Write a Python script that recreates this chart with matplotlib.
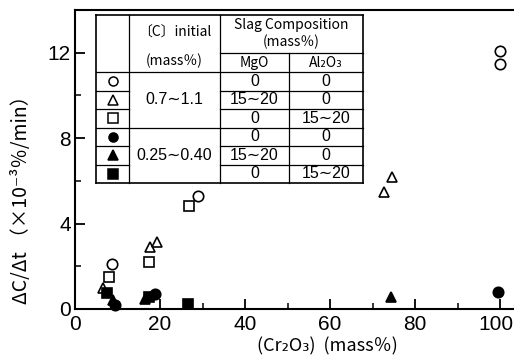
import matplotlib
matplotlib.use("Agg")
import matplotlib.pyplot as plt
from matplotlib import font_manager
from matplotlib.lines import Line2D
from matplotlib.transforms import ScaledTranslation

# ---- data: decarburisation rate vs. Cr2O3 content ----
open_circle_x = [8.6, 29.0, 100.0, 100.0]
open_circle_y = [2.1, 5.3, 12.1, 11.45]

open_tri_x = [6.5, 17.6, 19.2, 72.7, 74.5]
open_tri_y = [0.97, 2.9, 3.15, 5.5, 6.2]

open_sq_x = [8.1, 17.5, 26.9]
open_sq_y = [1.5, 2.22, 4.84]

fill_circle_x = [9.3, 18.8, 99.6]
fill_circle_y = [0.2, 0.68, 0.8]

fill_tri_x = [9.0, 16.5, 74.4]
fill_tri_y = [0.42, 0.47, 0.55]

fill_sq_x = [7.5, 17.3, 26.7]
fill_sq_y = [0.75, 0.58, 0.25]

x_ticks = [0, 20, 40, 60, 80, 100]
y_ticks = [0, 4, 8, 12]

# table contents
c_initial = ["0.7\u223c1.1", "0.25\u223c0.40"]
mgo_col = ["0", "15\u223c20", "0", "0", "15\u223c20", "0"]
al2o3_col = ["0", "0", "15\u223c20", "0", "0", "15\u223c20"]

# ---- fonts ----
installed = {f.name for f in font_manager.fontManager.ttflist}
NARROW = "Liberation Sans Narrow" if "Liberation Sans Narrow" in installed else "Liberation Sans"
NUM = [NARROW, "DejaVu Sans"]
CJK = ["Noto Sans CJK JP", "DejaVu Sans"]

W, H = 514, 362
fig = plt.figure(figsize=(W / 100, H / 100), dpi=100)

x0_px, y0_px, ytop_px = 75, 309, 10
px_per_x = 4.25
xmax = 105
ax = fig.add_axes([x0_px / W, (H - y0_px) / H,
                   xmax * px_per_x / W, (y0_px - ytop_px) / H])
ax.set_xlim(0, xmax)
ax.set_ylim(0, 14)

ms = 7.5
mew = 1.2
series = [
    (open_circle_x, open_circle_y, "o", "white"),
    (open_tri_x, open_tri_y, "^", "white"),
    (open_sq_x, open_sq_y, "s", "white"),
    (fill_circle_x, fill_circle_y, "o", "black"),
    (fill_tri_x, fill_tri_y, "^", "black"),
    (fill_sq_x, fill_sq_y, "s", "black"),
]
for xs, ys, m, fc in series:
    ax.plot(xs, ys, linestyle="none", marker=m, markersize=ms,
            markerfacecolor=fc, markeredgecolor="black",
            markeredgewidth=mew, clip_on=False, zorder=3)

for side in ("left", "bottom", "top", "right"):
    ax.spines[side].set_linewidth(1.5)

ax.set_xticks(x_ticks)
ax.set_yticks(y_ticks)
ax.set_xticks(range(10, 100, 20), minor=True)
ax.set_yticks(range(2, 14, 4), minor=True)
ax.tick_params(which="major", direction="in", length=7, width=1.3,
               labelsize=15, pad=4)
ax.tick_params(which="minor", direction="in", length=4.5, width=1.1)
ax.tick_params(axis="y", pad=3)
for lab in ax.get_xticklabels() + ax.get_yticklabels():
    lab.set_family(NUM)

# keep the last x tick label inside the canvas
last = ax.get_xticklabels()[-1]
last.set_transform(last.get_transform() +
                   ScaledTranslation(-4 / 100, 0, fig.dpi_scale_trans))

fig.text(327 / W, 1 - 346 / H, "(Cr\u2082O\u2083)  (mass\uff05)",
         ha="center", va="center", fontsize=13, family=CJK)
fig.text(22 / W, 1 - 195 / H, "\u0394C/\u0394t \uff08\u00d710\u207b\u00b3\uff05/min\uff09",
         ha="center", va="center", rotation=90, fontsize=14, family=CJK)

# ---- table of symbols drawn in figure pixel units ----
def fx(x):
    return x / W


def fy(y):
    return 1 - y / H


def hline(x1, x2, y, lw=0.9):
    fig.add_artist(Line2D([fx(x1), fx(x2)], [fy(y), fy(y)], color="black",
                          lw=lw, transform=fig.transFigure))


def vline(x, y1, y2, lw=0.9):
    fig.add_artist(Line2D([fx(x), fx(x)], [fy(y1), fy(y2)], color="black",
                          lw=lw, transform=fig.transFigure))


L, C1, C2, C3, R = 96, 129, 220, 289, 363
T, SUB, HB, B = 15, 53, 72, 183
row_h = (B - HB) / 6
rows = [HB + i * row_h for i in range(7)]

# white background so points never show through
fig.add_artist(plt.Rectangle((fx(L), fy(B)), fx(R) - fx(L), fy(T) - fy(B),
                             transform=fig.transFigure, facecolor="white",
                             edgecolor="none", zorder=1))

hline(L, R, T, 1.2)
hline(L, R, B, 1.2)
vline(L, T, B, 1.2)
vline(R, T, B, 1.2)
vline(C1, T, B)
vline(C2, T, B)
vline(C3, SUB, B)
hline(C2, R, SUB)
hline(L, R, HB)
for i in range(1, 6):
    y = rows[i]
    hline(L, C1, y)
    hline(C2, R, y)
hline(C1, C2, rows[3])

tkw = dict(ha="center", va="center", transform=fig.transFigure)
fig.text(fx((C1 + C2) / 2), fy(33), "\u3014C\u3015initial", fontsize=10, family=CJK, **tkw)
fig.text(fx((C1 + C2) / 2), fy(61), "(mass\uff05)", fontsize=10, family=CJK, **tkw)
fig.text(fx((C2 + R) / 2), fy(25), "Slag Composition", fontsize=10, family=CJK, **tkw)
fig.text(fx((C2 + R) / 2), fy(42), "(mass\uff05)", fontsize=10, family=CJK, **tkw)
fig.text(fx((C2 + C3) / 2), fy(63), "MgO", fontsize=10, family=CJK, **tkw)
fig.text(fx((C3 + R) / 2), fy(63), "Al\u2082O\u2083", fontsize=10, family=CJK, **tkw)

for j, txt in enumerate(c_initial):
    yc = (rows[3 * j] + rows[3 * j + 3]) / 2
    fig.text(fx((C1 + C2) / 2), fy(yc), txt, fontsize=11.5, family=NUM, **tkw)

for i in range(6):
    yc = (rows[i] + rows[i + 1]) / 2
    fig.text(fx((C2 + C3) / 2), fy(yc), mgo_col[i], fontsize=11.5, family=NUM, **tkw)
    fig.text(fx((C3 + R) / 2), fy(yc), al2o3_col[i], fontsize=11.5, family=NUM, **tkw)
    m, fc = series[i][2], series[i][3]
    fig.add_artist(Line2D([fx((L + C1) / 2)], [fy(yc)], marker=m, markersize=6.5,
                          markerfacecolor=fc, markeredgecolor="black",
                          markeredgewidth=1.1, linestyle="none",
                          transform=fig.transFigure, zorder=2))

fig.savefig("out.png", dpi=100)
